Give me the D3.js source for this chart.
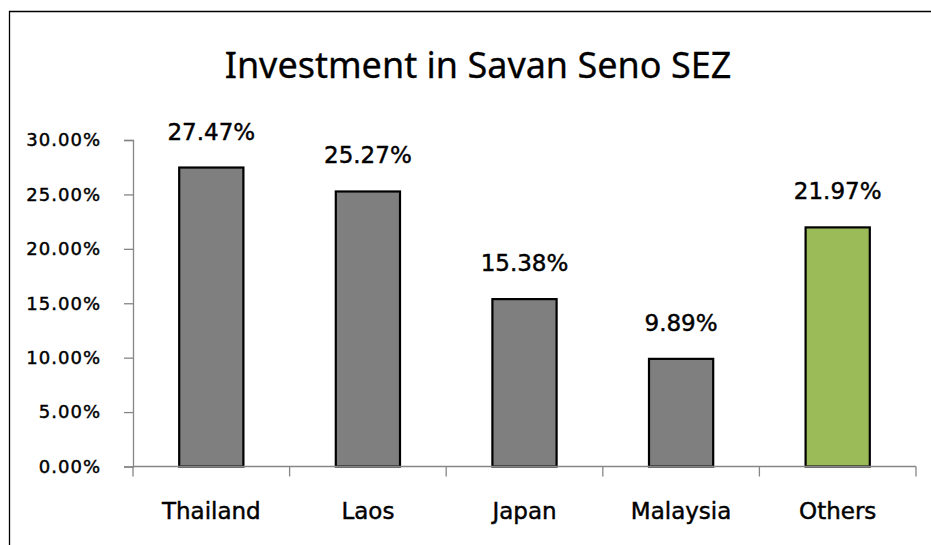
<!DOCTYPE html>
<html>
<head>
<meta charset="utf-8">
<script src="https://cdn.jsdelivr.net/npm/d3@7"></script>
<style>
  body { margin: 0; background: #fff; }
  text { font-family: "DejaVu Sans", sans-serif; fill: #000; }
  .lbl { stroke: #000; stroke-width: 0.45px; }
</style>
</head>
<body>
<svg id="chart"></svg>
<script>
var categories = ["Thailand", "Laos", "Japan", "Malaysia", "Others"];
var values = [27.47, 25.27, 15.38, 9.89, 21.97];
var barColors = ["#7f7f7f", "#7f7f7f", "#7f7f7f", "#7f7f7f", "#9bbb59"];
var yTicks = [0, 5, 10, 15, 20, 25, 30];
var title = "Investment in Savan Seno SEZ";

var width = 931, height = 545;
var margin = { top: 140, left: 133, right: 15, bottom: 78.5 };
var plotW = width - margin.left - margin.right;
var plotH = height - margin.top - margin.bottom;

var svg = d3.select("#chart")
  .attr("width", width)
  .attr("height", height);

// outer frame (runs off the right and bottom of the picture)
svg.append("path")
  .attr("d", "M9.5," + height + "V11.5H" + width)
  .attr("fill", "none")
  .attr("stroke", "#000")
  .attr("stroke-width", 1.3);

svg.append("text")
  .attr("x", 478)
  .attr("y", 78)
  .attr("text-anchor", "middle")
  .attr("class", "lbl")
  .style("stroke-width", "0.3px")
  .style("font-family", "'Noto Sans', sans-serif")
  .style("font-size", "36px")
  .text(title);

var g = svg.append("g")
  .attr("transform", "translate(" + margin.left + "," + margin.top + ")");

var x = d3.scaleBand()
  .domain(categories)
  .range([0, plotW])
  .paddingInner(0.59)
  .paddingOuter(0.295);

var y = d3.scaleLinear()
  .domain([0, 30])
  .range([plotH, 0]);

var yAxis = g.append("g")
  .call(d3.axisLeft(y)
    .tickValues(yTicks)
    .tickSize(9)
    .tickPadding(23)
    .tickFormat(function(d){ return d.toFixed(2) + "%"; }));

yAxis.select(".domain").attr("stroke", "#868686").attr("stroke-width", 1.3);
yAxis.selectAll(".tick line").attr("stroke", "#868686").attr("stroke-width", 1.3);
yAxis.selectAll(".tick text")
  .attr("class", "lbl")
  .style("font-family", "'DejaVu Sans', sans-serif")
  .style("font-size", "18px")
  .style("letter-spacing", "1px")
  .attr("fill", "#000");

// bars
g.selectAll(".bar")
  .data(values)
  .enter()
  .append("rect")
  .attr("class", "bar")
  .attr("x", function(d, i){ return x(categories[i]); })
  .attr("width", x.bandwidth())
  .attr("y", function(d){ return y(d); })
  .attr("height", function(d){ return plotH - y(d); })
  .attr("fill", function(d, i){ return barColors[i]; })
  .attr("stroke", "#000")
  .attr("stroke-width", 2.2);

// x axis line and category boundary ticks
var step = x.step();
g.append("line")
  .attr("x1", 0).attr("x2", plotW)
  .attr("y1", plotH).attr("y2", plotH)
  .attr("stroke", "#868686")
  .attr("stroke-width", 1.3);

g.selectAll(".xtick")
  .data(d3.range(categories.length + 1))
  .enter()
  .append("line")
  .attr("class", "xtick")
  .attr("x1", function(i){ return i * step; })
  .attr("x2", function(i){ return i * step; })
  .attr("y1", plotH)
  .attr("y2", plotH + 10)
  .attr("stroke", "#868686")
  .attr("stroke-width", 1.3);

g.selectAll(".cat")
  .data(categories)
  .enter()
  .append("text")
  .attr("class", "cat lbl")
  .attr("x", function(d){ return x(d) + x.bandwidth() / 2; })
  .attr("y", plotH + 52.5)
  .attr("text-anchor", "middle")
  .style("font-size", "23px")
  .text(function(d){ return d; });

// data labels
g.selectAll(".val")
  .data(values)
  .enter()
  .append("text")
  .attr("class", "val lbl")
  .attr("x", function(d, i){ return x(categories[i]) + x.bandwidth() / 2; })
  .attr("y", function(d){ return y(d) - 28; })
  .attr("text-anchor", "middle")
  .style("font-size", "23px")
  .text(function(d){ return d.toFixed(2) + "%"; });
</script>
</body>
</html>
